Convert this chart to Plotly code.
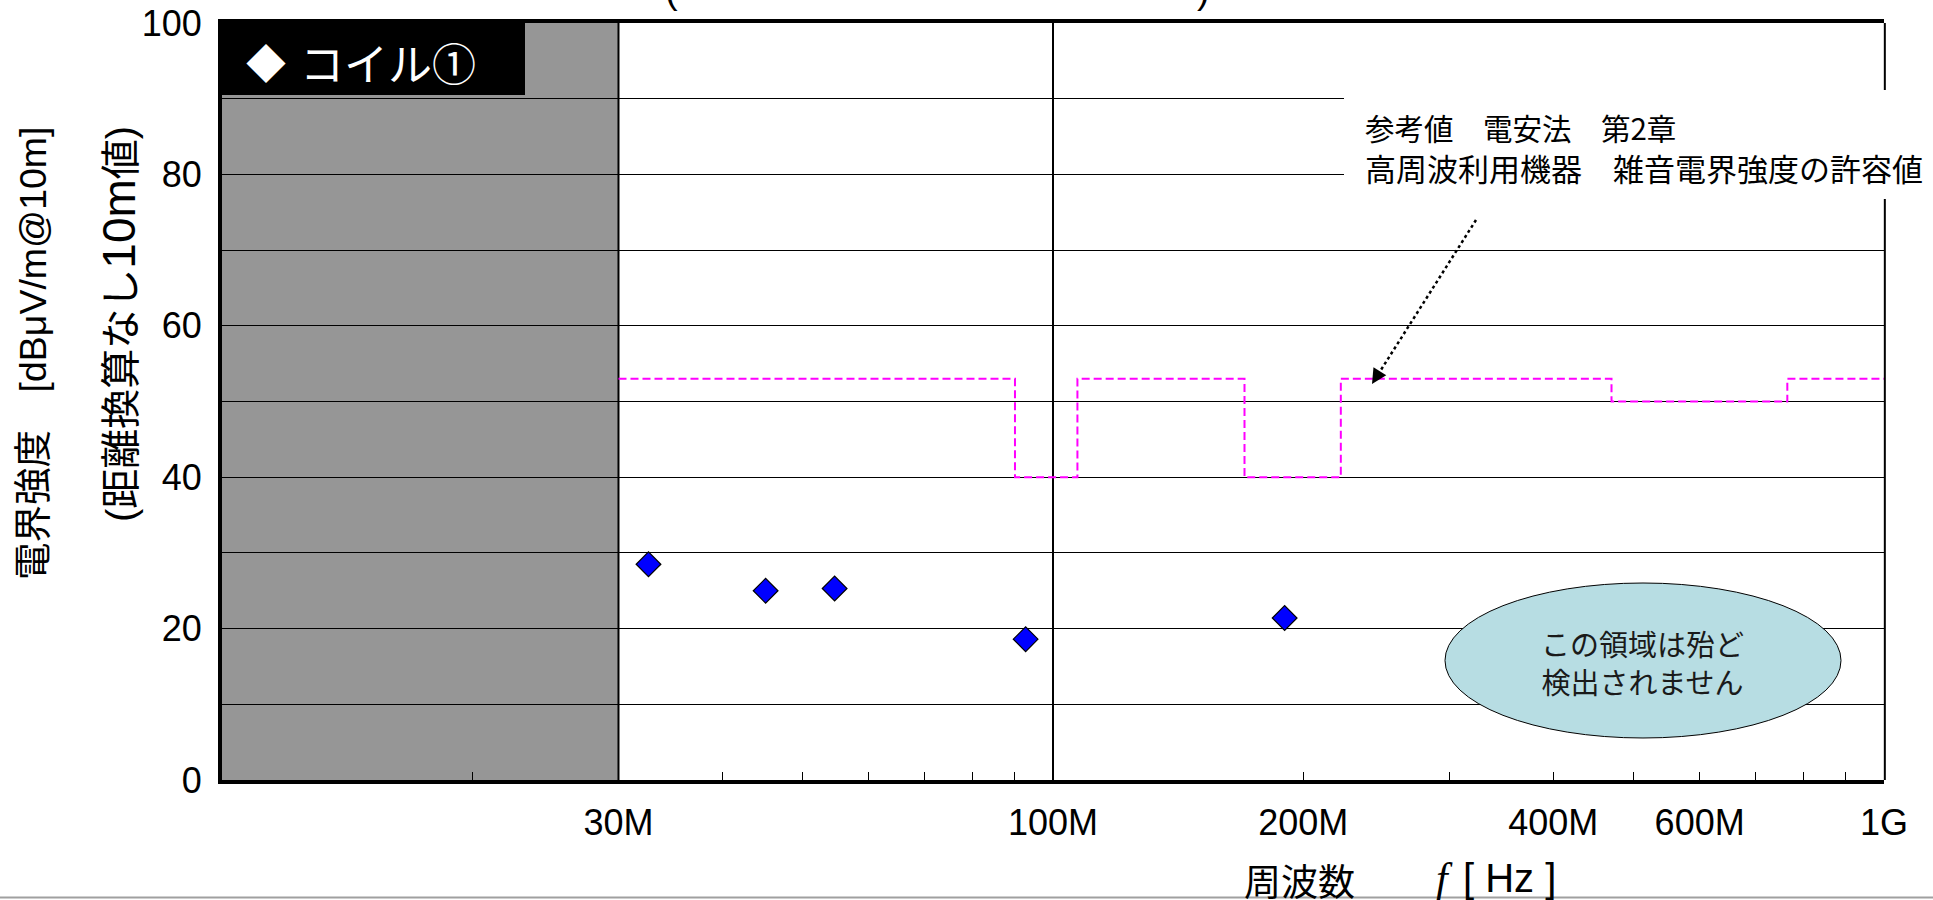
import numpy as np
import plotly.graph_objects as go

# ---------------- data ----------------
series_name = "コイル①"
meas_freq_hz = [32.6e6, 45.1e6, 54.6e6, 92.7e6, 190e6]
meas_level_dbuv = [28.5, 25.0, 25.3, 18.6, 21.4]

limit_freq_hz = [30e6, 90e6, 107e6, 170e6, 222e6, 470e6, 765e6, 1e9]
limit_level_dbuv = [53, 40, 53, 40, 53, 50, 53, 53]

shaded_band_hz = [10e6, 30e6]
vgrid_freq_hz = [30e6, 100e6]

x_tick_vals = [20e6, 30e6, 40e6, 50e6, 60e6, 70e6, 80e6, 90e6, 100e6,
               200e6, 300e6, 400e6, 500e6, 600e6, 700e6, 800e6, 900e6, 1e9]
x_tick_named = {30e6: "30M", 100e6: "100M", 200e6: "200M",
                400e6: "400M", 600e6: "600M", 1e9: "1G"}
x_tick_text = [x_tick_named.get(v, "") for v in x_tick_vals]

y_tick_vals = list(range(0, 101, 10))
y_tick_text = [str(v) if v % 20 == 0 else "" for v in y_tick_vals]

limit_note_1 = "参考値　電安法　第2章"
limit_note_2 = "高周波利用機器　雑音電界強度の許容値"
region_note = "この領域は殆ど<br>検出されません"
y_title_1 = "電界強度　[dBμV/m@10m]"
y_title_2 = "(距離換算なし<span style='font-size:46px'>10m</span>値)"

# ---------------- layout helpers ----------------
W, H = 1933, 900
ML, MR, MT, MB = 222, 49, 23, 120
PW, PH = W - ML - MR, H - MT - MB


def px(x):
    return (x - ML) / PW


def py(y):
    return (H - MB - y) / PH


LATIN = "Liberation Sans, Arial, Noto Sans CJK JP, sans-serif"
CJK = "Noto Sans CJK JP, sans-serif"

fig = go.Figure()

# vertical grid lines at 30M and 100M
vx, vy = [], []
for f in vgrid_freq_hz:
    vx += [f, f, None]
    vy += [0, 100, None]
fig.add_trace(go.Scatter(x=vx, y=vy, mode="lines",
                         line=dict(color="black", width=2),
                         hoverinfo="skip", showlegend=False))

# limit line
fig.add_trace(go.Scatter(x=limit_freq_hz, y=limit_level_dbuv, mode="lines",
                         line=dict(color="#FF00FF", width=2, shape="hv",
                                   dash="8px,4px"),
                         name="limit", showlegend=False))

# measurements
fig.add_trace(go.Scatter(x=meas_freq_hz, y=meas_level_dbuv, mode="markers",
                         marker=dict(symbol="diamond", size=19, color="#0000FF",
                                     line=dict(color="black", width=1.2)),
                         name=series_name, showlegend=False))

band_x1 = (np.log10(shaded_band_hz[1]) - 7) / 2.0

shapes = [
    dict(type="rect", xref="paper", yref="paper", x0=0, x1=band_x1, y0=0, y1=1,
         fillcolor="#969696", line=dict(width=0), layer="below"),
    dict(type="line", xref="paper", yref="paper", x0=1.0005, x1=1.0005, y0=0, y1=1,
         line=dict(color="black", width=2), layer="above"),
    dict(type="rect", xref="paper", yref="paper", x0=px(1344), x1=px(1945),
         y0=py(199), y1=py(90), fillcolor="white", line=dict(width=0), layer="above"),
    dict(type="rect", xref="paper", yref="paper", x0=px(221), x1=px(525),
         y0=py(95), y1=py(20), fillcolor="black", line=dict(width=0), layer="above"),
    dict(type="circle", xref="paper", yref="paper", x0=px(1445), x1=px(1841),
         y0=py(738), y1=py(583), fillcolor="#B7DDE3",
         line=dict(color="black", width=1), layer="above"),
    dict(type="line", xref="paper", yref="paper", x0=px(1476), y0=py(220),
         x1=px(1379), y1=py(373), line=dict(color="black", width=2.5, dash="dot"),
         layer="above"),
    dict(type="line", xref="paper", yref="paper", x0=px(0), x1=px(W),
         y0=py(897.5), y1=py(897.5), line=dict(color="#A0A0A0", width=2),
         layer="above"),
]

annotations = [
    dict(text="◆", x=px(266), y=py(62), xref="paper", yref="paper",
         xanchor="center", yanchor="middle", showarrow=False,
         font=dict(family=CJK, size=40, color="white")),
    dict(text=series_name, x=px(298), y=py(62), xref="paper", yref="paper",
         xanchor="left", yanchor="middle", showarrow=False,
         font=dict(family=CJK, size=44, color="white")),
    dict(text=limit_note_1, x=px(1363), y=py(127), xref="paper", yref="paper",
         xanchor="left", yanchor="middle", align="left", showarrow=False,
         font=dict(family=CJK, size=29.5, color="black")),
    dict(text=limit_note_2, x=px(1363), y=py(167), xref="paper", yref="paper",
         xanchor="left", yanchor="middle", align="left", showarrow=False,
         font=dict(family=CJK, size=31, color="black")),
    dict(text=region_note, x=px(1642), y=py(662), xref="paper", yref="paper",
         xanchor="center", yanchor="middle", align="center", showarrow=False,
         font=dict(family=CJK, size=29, color="#1a1a1a")),
    dict(text=y_title_1, x=px(33), y=py(124), xref="paper", yref="paper",
         xanchor="center", yanchor="top", textangle=-90, showarrow=False,
         font=dict(family=LATIN, size=37.5, color="black")),
    dict(text=y_title_2, x=px(119), y=py(124), xref="paper", yref="paper",
         xanchor="center", yanchor="top", textangle=-90, showarrow=False,
         font=dict(family=LATIN, size=40, color="black")),
    dict(text="周波数", x=px(1299), y=py(880), xref="paper", yref="paper",
         xanchor="center", yanchor="middle", showarrow=False,
         font=dict(family=CJK, size=37, color="black")),
    dict(text="<i>f</i>", x=px(1444), y=py(878), xref="paper", yref="paper",
         xanchor="center", yanchor="middle", showarrow=False,
         font=dict(family="Liberation Serif, serif", size=42, color="black")),
    dict(text="[ Hz ]", x=px(1461), y=py(878), xref="paper", yref="paper",
         xanchor="left", yanchor="middle", showarrow=False,
         font=dict(family=LATIN, size=40, color="black")),
    dict(text="(", x=px(671), y=py(13), xref="paper", yref="paper",
         xanchor="center", yanchor="bottom", showarrow=False,
         font=dict(family=LATIN, size=38, color="black")),
    dict(text=")", x=px(1203), y=py(13), xref="paper", yref="paper",
         xanchor="center", yanchor="bottom", showarrow=False,
         font=dict(family=LATIN, size=38, color="black")),
    dict(text="", x=px(1372), y=py(384), xref="paper", yref="paper",
         showarrow=True, arrowhead=2, arrowsize=1.5, arrowwidth=2,
         arrowcolor="black", ax=8, ay=-13, axref="pixel", ayref="pixel"),
]

fig.update_layout(
    width=W, height=H, autosize=False,
    margin=dict(l=ML, r=MR, t=MT, b=MB, pad=0, autoexpand=False),
    paper_bgcolor="white", plot_bgcolor="white",
    showlegend=False,
    shapes=shapes, annotations=annotations,
    font=dict(family=LATIN, color="black"),
)

fig.update_xaxes(
    type="log", range=[7, 9], automargin=False,
    tickvals=x_tick_vals, ticktext=x_tick_text,
    ticks="inside", ticklen=8, tickwidth=1, tickcolor="black",
    showgrid=False, zeroline=False,
    showline=True, linewidth=4, linecolor="black", mirror=True,
    tickfont=dict(family=LATIN, size=36, color="black"),
    ticklabelstandoff=8,
)
fig.update_yaxes(
    range=[0, 100], automargin=False,
    tickvals=y_tick_vals, ticktext=y_tick_text,
    ticks="", showgrid=True, gridcolor="black", gridwidth=1.2,
    zeroline=False,
    showline=True, linewidth=4, linecolor="black",
    tickfont=dict(family=LATIN, size=36, color="black"),
    ticklabelstandoff=9,
)

fig.write_html("out.html",
               config={"displayModeBar": False},
               post_script="document.body.style.margin='0px';"
                           "document.body.style.overflow='hidden';")
